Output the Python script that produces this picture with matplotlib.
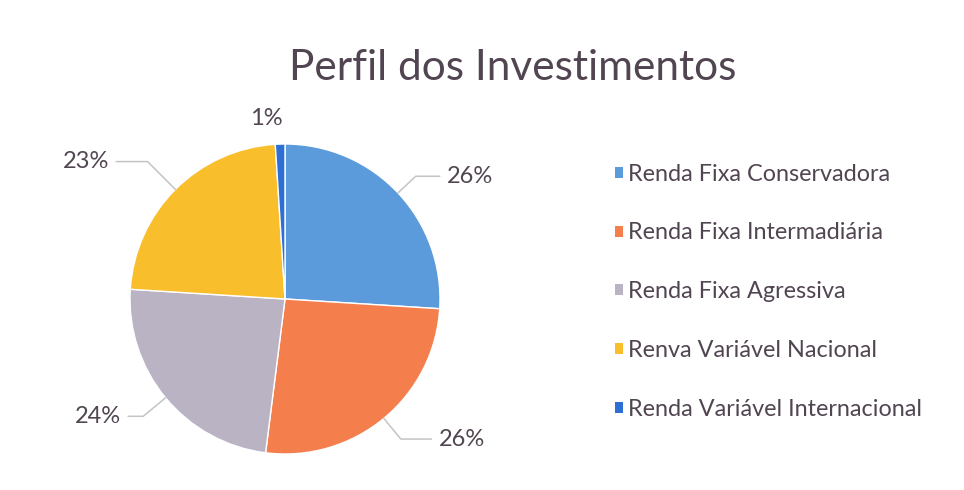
import numpy as np
import matplotlib.pyplot as plt
from matplotlib.patches import Patch

plt.rcParams['font.family'] = ['Lato', 'DejaVu Sans']

categorias = ['Renda Fixa Conservadora', 'Renda Fixa Intermadiária', 'Renda Fixa Agressiva',
              'Renva Variável Nacional', 'Renda Variável Internacional']
valores = [26, 26, 24, 23, 1]
rotulos = ['26%', '26%', '24%', '23%', '1%']
cores = ['#5B9BDB', '#F47F4C', '#BAB3C4', '#F8BE2C', '#2E6FD6']

# distancia radial e desvio angular de cada rotulo (layout)
dist_rot = [1.31, 1.34, 1.30, 1.44, 1.17]
desvio_ang = [-6, 8, -4, 7, 4]

txt_cor = '#514551'
W, H = 964, 490
R = 155
cx, cy = 285, 299

fig = plt.figure(figsize=(W / 100, H / 100), dpi=100)
xl, yl = (-1.8, 1.8), (-1.2, 1.35)
ax = fig.add_axes([(cx + xl[0] * R) / W, (H - cy + yl[0] * R) / H,
                   (xl[1] - xl[0]) * R / W, (yl[1] - yl[0]) * R / H])

wedges, _ = ax.pie(valores, colors=cores, startangle=90, counterclock=False,
                   wedgeprops=dict(edgecolor='white', linewidth=1.0))
ax.set_xlim(*xl)
ax.set_ylim(*yl)
ax.set_aspect('equal')

for w, lab, d, da in zip(wedges, rotulos, dist_rot, desvio_ang):
    th = (w.theta1 + w.theta2) / 2
    t = np.deg2rad(th)
    tl = np.deg2rad(th + da)
    xe, ye = np.cos(t), np.sin(t)
    xt, yt = d * np.cos(tl), d * np.sin(tl)
    if lab == '1%':
        ax.text(xt, yt, lab, ha='center', va='center', fontsize=17, color=txt_cor)
        continue
    ha = 'left' if xt > 0 else 'right'
    ax.annotate(lab, xy=(xe, ye), xytext=(xt, yt), ha=ha, va='center',
                fontsize=17, color=txt_cor,
                arrowprops=dict(arrowstyle='-', color='#C4C4C4', lw=1.1,
                                shrinkA=3, shrinkB=0,
                                connectionstyle='angle,angleA=0,angleB=%.1f,rad=0' % th))

handles = [Patch(facecolor=c, edgecolor='none') for c in cores]
fig.legend(handles, categorias, loc='upper left', bbox_to_anchor=(603 / W, 1 - 152 / H),
           frameon=False, fontsize=16.8, labelcolor=txt_cor, handlelength=0.36,
           handleheight=0.36, handletextpad=0.2, labelspacing=1.62, borderpad=0)

fig.text(513 / W, 1 - 68 / H, 'Perfil dos Investimentos', ha='center', va='center',
         fontsize=30.5, color=txt_cor)

fig.savefig('out.png', dpi=100, facecolor='white')
